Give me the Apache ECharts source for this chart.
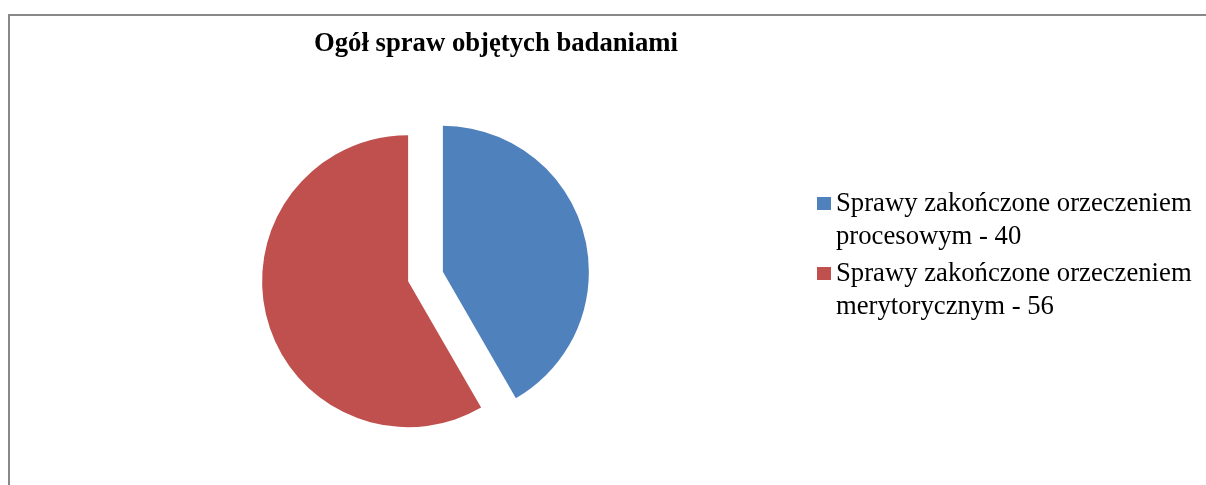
<!DOCTYPE html>
<html>
<head>
<meta charset="utf-8">
<script src="https://cdn.jsdelivr.net/npm/echarts@6/dist/echarts.min.js"></script>
<style>
  html, body { margin: 0; padding: 0; background: #fff; }
  #chart { width: 1206px; height: 485px; }
</style>
</head>
<body>
<div id="chart"></div>
<script>
const titleText = 'Ogół spraw objętych badaniami';
const categories = ['Sprawy zakończone orzeczeniem procesowym', 'Sprawy zakończone orzeczeniem merytorycznym'];
const legendLine1 = ['Sprawy zakończone orzeczeniem', 'Sprawy zakończone orzeczeniem'];
const legendLine2 = ['procesowym', 'merytorycznym'];
const values = [40, 56];
const colors = ['#4F81BD', '#C0504D'];

const chart = echarts.init(document.getElementById('chart'), null, { renderer: 'canvas' });
const serif = '"Liberation Serif", "Times New Roman", serif';

chart.setOption({
  animation: false,
  backgroundColor: '#ffffff',
  color: colors,
  graphic: [{
    type: 'rect',
    silent: true,
    shape: { x: 9, y: 15, width: 1400, height: 700 },
    style: { fill: 'none', stroke: '#888888', lineWidth: 2 }
  }],
  title: {
    text: titleText,
    left: 491,
    textAlign: 'center',
    top: 26,
    textStyle: { fontFamily: serif, fontWeight: 'bold', fontSize: 26.7, color: '#000' }
  },
  legend: {
    orient: 'vertical',
    left: 817,
    top: 154,
    padding: 0,
    itemWidth: 14,
    itemHeight: 13,
    itemGap: -29,
    icon: 'rect',
    selectedMode: false,
    data: categories,
    formatter: function (name) {
      const i = categories.indexOf(name);
      return '\u00a0\n' + legendLine1[i] + '\n' + legendLine2[i] + ' - ' + values[i];
    },
    textStyle: {
      fontFamily: serif,
      fontSize: 26.7,
      lineHeight: 33,
      color: '#000'
    }
  },
  series: [{
    type: 'pie',
    center: [425.5, 276.5],
    radius: 146,
    startAngle: 90,
    clockwise: true,
    selectedMode: 'multiple',
    selectedOffset: 18,
    silent: true,
    label: { show: false },
    labelLine: { show: false },
    emphasis: { disabled: true },
    itemStyle: { borderWidth: 0 },
    data: categories.map((c, i) => ({ name: c, value: values[i], selected: true }))
  }]
});
</script>
</body>
</html>
